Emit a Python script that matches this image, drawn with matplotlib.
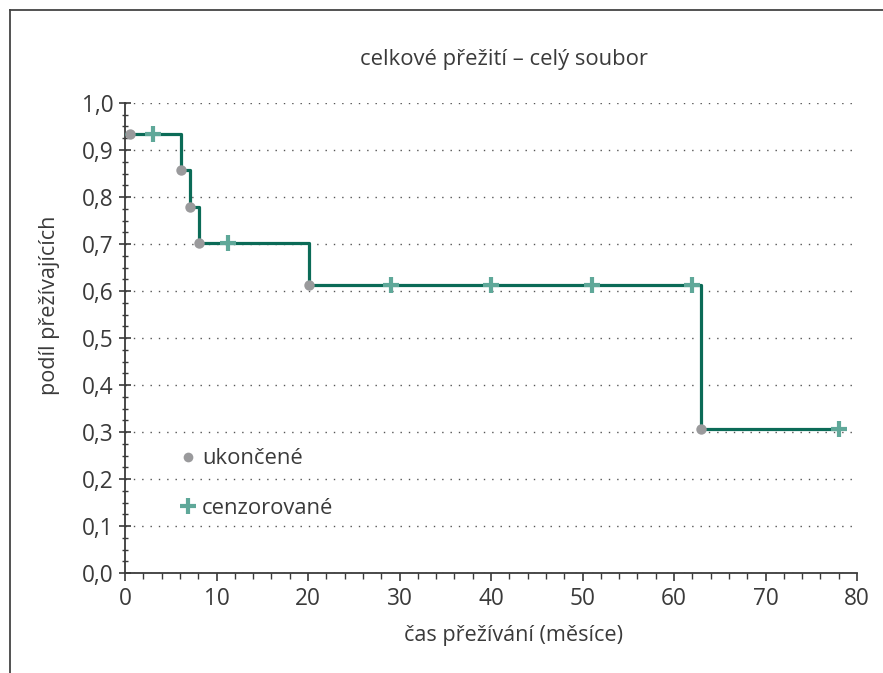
#
# Kaplan-Meier curve: celkové přežití, celý soubor
#
import matplotlib.pyplot as plt
from matplotlib.ticker import MultipleLocator, FuncFormatter
from matplotlib.lines import Line2D

plt.rcParams['font.family'] = ['Open Sans', 'DejaVu Sans']

# survival step curve (time in months, proportion surviving)
step_t = [0, 0.6, 6.1, 7.1, 8.1, 20.1, 63.0, 78.0]
step_s = [0.934, 0.934, 0.857, 0.779, 0.702, 0.613, 0.306, 0.306]

# events (ukončené)
event_t = [0.6, 6.1, 7.1, 8.1, 20.1, 63.0]
event_s = [0.934, 0.857, 0.779, 0.702, 0.613, 0.306]

# censored (cenzorované)
cens_t = [3.1, 11.3, 29.1, 40.0, 51.0, 62.0, 78.0]
cens_s = [0.934, 0.702, 0.613, 0.613, 0.613, 0.613, 0.306]

line_col = '#0b6b57'
cens_col = '#5fa899'
event_col = '#9a9a9c'
text_col = '#3a3a3a'

fig = plt.figure(figsize=(8.83, 6.73), dpi=100)
ax = fig.add_axes([125/883, 1-573/673, (857-125)/883, (573-103)/673])

ax.step(step_t, step_s, where='post', color=line_col, lw=2.3, zorder=3)
ax.plot(event_t, event_s, 'o', color=event_col, ms=7.5, mew=0, zorder=4)
ax.plot(cens_t, cens_s, '+', color=cens_col, ms=11, mew=3, zorder=4)

ax.set_xlim(0, 80)
ax.set_ylim(0, 1.0)
ax.xaxis.set_major_locator(MultipleLocator(10))
ax.xaxis.set_minor_locator(MultipleLocator(2))
ax.yaxis.set_major_locator(MultipleLocator(0.1))
ax.yaxis.set_minor_locator(MultipleLocator(0.025))
ax.yaxis.set_major_formatter(FuncFormatter(lambda v, p: f'{v:.1f}'.replace('.', ',')))

ax.grid(axis='y', which='major', linestyle=(0, (1, 5)), color='#555555', lw=1)
ax.set_axisbelow(True)
for s in ['top', 'right']:
    ax.spines[s].set_visible(False)
for s in ['left', 'bottom']:
    ax.spines[s].set_color(text_col)
    ax.spines[s].set_linewidth(1.3)
ax.tick_params(which='major', length=6, width=1.2, color=text_col,
               labelsize=16.3, labelcolor=text_col, pad=4)
ax.tick_params(which='minor', length=4, width=1.0, color=text_col)
ax.tick_params(axis='y', which='major', direction='inout', length=9)
ax.tick_params(axis='y', which='minor', direction='inout', length=5)

fig.text(504/883, 1-60/673, 'celkové přežití – celý soubor', ha='center', va='center',
         fontsize=15.8, color=text_col)
fig.text(514/883, 1-636/673, 'čas přežívání (měsíce)', ha='center', va='center',
         fontsize=15.6, color=text_col)
fig.text(50/883, 1-305/673, 'podíl přežívajících', ha='center', va='center',
         rotation=90, fontsize=15.6, color=text_col)

handles = [Line2D([], [], marker='o', ls='', color=event_col, ms=7, mew=0),
           Line2D([], [], marker='+', ls='', color=cens_col, ms=11, mew=3)]
ax.legend(handles, ['ukončené', 'cenzorované'], loc='upper left',
          bbox_to_anchor=(0.05, 0.307), frameon=False, fontsize=15.8,
          labelcolor=text_col, handlelength=0.6, handletextpad=0.35, labelspacing=1.3)

# outer frame
fig.add_artist(Line2D([10/883, 10/883], [0, 1-10/673], color='#444444', lw=1.3))
fig.add_artist(Line2D([10/883, 1], [1-10/673, 1-10/673], color='#444444', lw=1.3))

fig.savefig('out.png', dpi=100)
